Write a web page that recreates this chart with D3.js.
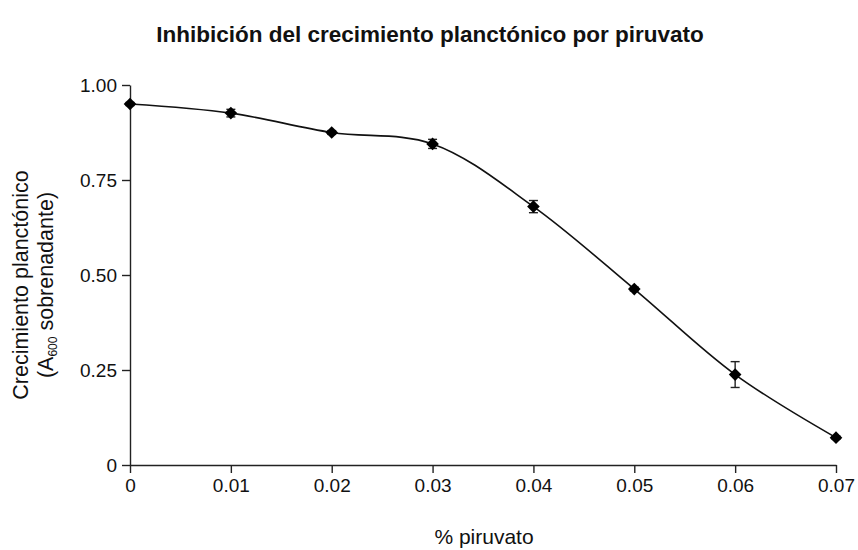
<!DOCTYPE html>
<html>
<head>
<meta charset="utf-8">
<script src="https://cdn.jsdelivr.net/npm/d3@7"></script>
<style>
  body { margin: 0; background: #fff; }
  text { font-family: "Liberation Sans", Arial, sans-serif; fill: #111; }
</style>
</head>
<body>
<script>
// piruvato concentration (%) vs planktonic growth (A600)
var pyruvate = [0, 0.01, 0.02, 0.03, 0.04, 0.05, 0.06, 0.07];
var growth = [0.950, 0.926, 0.875, 0.845, 0.680, 0.463, 0.238, 0.072];
var errors = [0.004, 0.010, 0.005, 0.012, 0.016, 0.005, 0.034, 0.004];
var xTicks = [0, 0.01, 0.02, 0.03, 0.04, 0.05, 0.06, 0.07];
var yTicks = [0, 0.25, 0.5, 0.75, 1];

var W = 858, H = 550;
var graphX = 130, graphY = 85;
var graphW = 706, graphH = 380;

var svg = d3.select("body").append("svg")
  .attr("width", W)
  .attr("height", H);

var xscale = d3.scaleLinear().domain([0, 0.07]).range([graphX, graphX + graphW]);
var yscale = d3.scaleLinear().domain([0, 1]).range([graphY + graphH, graphY]);

svg.append("text")
  .text("Inhibición del crecimiento planctónico por piruvato")
  .attr("x", 430)
  .attr("y", 42)
  .attr("text-anchor", "middle")
  .style("font-size", "22.5px")
  .style("font-weight", "bold");

// axes
var fmt = d => d == 0 ? "0" : d3.format(".2f")(d);

var x_axis = d3.axisBottom(xscale)
  .tickValues(xTicks)
  .tickSize(8)
  .tickSizeOuter(0)
  .tickFormat(fmt);

var y_axis = d3.axisLeft(yscale)
  .tickValues(yTicks)
  .tickSize(8)
  .tickSizeOuter(0)
  .tickFormat(fmt);

var gx = svg.append("g")
  .attr("transform", "translate(0," + (graphY + graphH) + ")")
  .call(x_axis);
gx.selectAll("text").style("font-size", "19px").attr("y", 27).attr("dy", 0);

var gy = svg.append("g")
  .attr("transform", "translate(" + graphX + ",0)")
  .call(y_axis);
gy.selectAll("text").style("font-size", "19px").attr("x", -13);

svg.selectAll(".domain, .tick line").attr("stroke", "#222").attr("stroke-width", 1.4);
svg.selectAll(".tick text").style("font-family", "'Liberation Sans', Arial, sans-serif").attr("fill", "#111");

// axis titles
svg.append("text")
  .text("% piruvato")
  .attr("x", 484)
  .attr("y", 544)
  .attr("text-anchor", "middle")
  .style("font-size", "21px");

var yl = svg.append("g").attr("transform", "translate(0,285) rotate(-90)");
yl.append("text")
  .text("Crecimiento planctónico")
  .attr("x", 0)
  .attr("y", 28)
  .attr("text-anchor", "middle")
  .style("font-size", "21.5px");
var t2 = yl.append("text")
  .attr("x", 0)
  .attr("y", 53)
  .attr("text-anchor", "middle")
  .style("font-size", "21.5px");
t2.append("tspan").text("(A");
t2.append("tspan").text("600").attr("dy", 4).style("font-size", "12px");
t2.append("tspan").text(" sobrenadante)").attr("dy", -4);

// data
var pts = pyruvate.map((d, i) => ({ x: d, y: growth[i], e: errors[i] }));

var line = d3.line()
  .x(d => xscale(d.x))
  .y(d => yscale(d.y))
  .curve(d3.curveCatmullRom.alpha(0.5));

svg.append("path")
  .datum(pts)
  .attr("d", line)
  .attr("fill", "none")
  .attr("stroke", "#111")
  .attr("stroke-width", 1.6);

var eb = svg.append("g").selectAll("g")
  .data(pts)
  .enter()
  .append("g")
  .attr("stroke", "#222")
  .attr("stroke-width", 1.4);

eb.append("line")
  .attr("x1", d => xscale(d.x)).attr("x2", d => xscale(d.x))
  .attr("y1", d => yscale(d.y + d.e)).attr("y2", d => yscale(d.y - d.e));
eb.append("line")
  .attr("x1", d => xscale(d.x) - 4.5).attr("x2", d => xscale(d.x) + 4.5)
  .attr("y1", d => yscale(d.y + d.e)).attr("y2", d => yscale(d.y + d.e));
eb.append("line")
  .attr("x1", d => xscale(d.x) - 4.5).attr("x2", d => xscale(d.x) + 4.5)
  .attr("y1", d => yscale(d.y - d.e)).attr("y2", d => yscale(d.y - d.e));

// diamond markers
svg.append("g").selectAll("path")
  .data(pts)
  .enter()
  .append("path")
  .attr("d", d3.symbol().type(d3.symbolSquare).size(80))
  .attr("transform", d => "translate(" + xscale(d.x) + "," + yscale(d.y) + ") rotate(45)")
  .attr("fill", "#000");
</script>
</body>
</html>
